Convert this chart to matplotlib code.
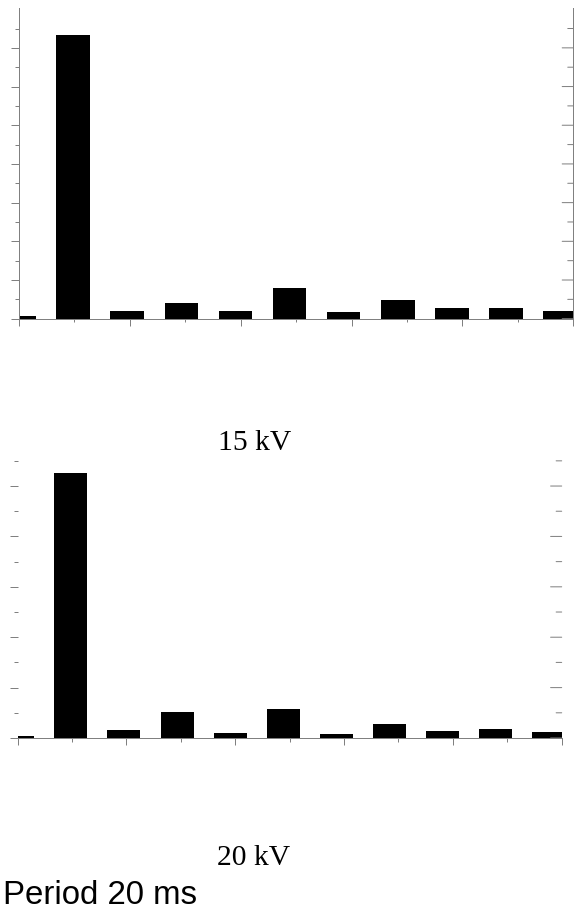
import numpy as np
import matplotlib.pyplot as plt

# harmonic amplitudes, period 20 ms
orders = np.arange(11)
amp_15kv = [0.14, 14.68, 0.40, 0.79, 0.40, 1.60, 0.33, 0.95, 0.57, 0.54, 0.41]
amp_20kv = [0.07, 10.52, 0.30, 1.03, 0.20, 1.14, 0.17, 0.57, 0.29, 0.37, 0.25]

GRAY = '#808080'
PX = 0.72  # points per pixel at dpi 100

fig = plt.figure(figsize=(5.8, 9.11), dpi=100)

def style_ticks(ax, xmax, ytop, ylong, yshort, xlong, xshort):
    ticks = np.linspace(0, xmax, 11)
    ax.set_xticks(ticks[::2])
    ax.set_xticks(ticks[1::2], minor=True)
    ax.set_yticks(np.arange(0, ytop + 1, 2))
    ax.set_yticks(np.arange(1, ytop + 1, 2), minor=True)
    ax.set_xticklabels([])
    ax.set_yticklabels([])
    ax.tick_params(axis='x', which='major', direction='out', length=xlong * PX,
                   width=PX, color=GRAY, top=False)
    ax.tick_params(axis='x', which='minor', direction='out', length=xshort * PX,
                   width=PX, color=GRAY, top=False)
    ax.tick_params(axis='y', which='major', direction='out', length=ylong * PX,
                   width=PX, color=GRAY, left=True, right=False)
    ax.tick_params(axis='y', which='minor', direction='out', length=yshort * PX,
                   width=PX, color=GRAY, left=True, right=False)
    # ticks on the right edge point inwards
    for y, ln in [(v, ylong) for v in np.arange(0, ytop + 1, 2)] + \
                 [(v, yshort) for v in np.arange(1, ytop + 1, 2)]:
        ax.annotate('', xy=(1, y), xycoords=('axes fraction', 'data'),
                    xytext=(-ln, 0), textcoords='offset points',
                    arrowprops=dict(arrowstyle='-', color=GRAY, lw=PX,
                                    shrinkA=0, shrinkB=0))


# 15 kV
ax1 = fig.add_axes([19 / 580, 1 - 318.7 / 911, 554.3 / 580, 310.7 / 911])
ax1.bar(orders, amp_15kv, width=0.62, color='black')
ax1.set_xlim(0, 10.245)
ax1.set_ylim(0, 16.06)
for s in ['left', 'right', 'bottom']:
    ax1.spines[s].set_color(GRAY)
    ax1.spines[s].set_linewidth(PX)
ax1.spines['top'].set_visible(False)
style_ticks(ax1, 10.245, 15, 8, 4, 6.7, 2.7)

# 20 kV
ax2 = fig.add_axes([17.7 / 580, 1 - 738 / 911, 544 / 580, 282.2 / 911])
ax2.bar(orders, amp_20kv, width=0.62, color='black')
ax2.set_xlim(0, 10.24)
ax2.set_ylim(0, 11.2)
for s in ['left', 'right', 'top']:
    ax2.spines[s].set_visible(False)
ax2.spines['bottom'].set_color(GRAY)
ax2.spines['bottom'].set_linewidth(PX)
style_ticks(ax2, 10.24, 11, 8, 4, 7, 3.7)

fig.text(255 / 580, 1 - 450 / 911, '15 kV', ha='center', va='baseline',
         family='Liberation Serif', fontsize=21.3)
fig.text(254 / 580, 1 - 865 / 911, '20 kV', ha='center', va='baseline',
         family='Liberation Serif', fontsize=21.3)
fig.text(3 / 580, 1 - 904 / 911, 'Period 20 ms', ha='left', va='baseline',
         family='Liberation Sans', fontsize=23.8)

fig.savefig('out.png', dpi=100)
